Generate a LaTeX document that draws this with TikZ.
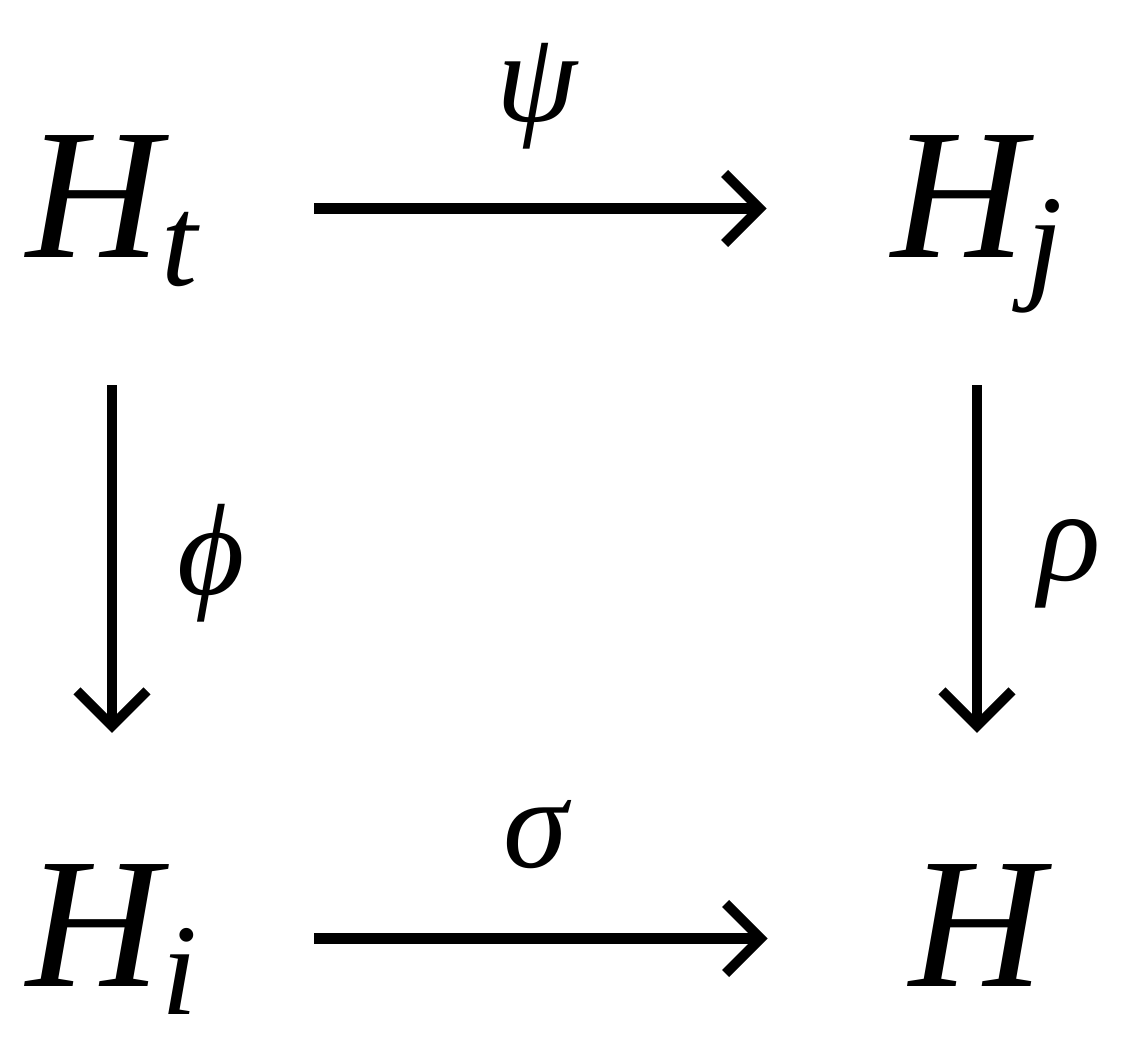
\documentclass[tikz,border=0pt]{standalone}
\usepackage{fontspec}
\setmainfont{Liberation Serif}
\usetikzlibrary{arrows.meta}
\newcommand\idx[1]{\raisebox{-0.28cm}{\fontsize{37}{44}\selectfont #1}}

\begin{document}
\begin{tikzpicture}[->,>={Straight Barb[length=3.5mm,width=7mm]},line width=2.85pt,
  main node/.style={inner sep=0pt,text height=1.3cm,text depth=0.33cm,font=\fontsize{53}{64}\selectfont\itshape},
  map label/.style={inner sep=0pt,font=\fontsize{37}{44}\selectfont\itshape}]
  \useasboundingbox (0,0) rectangle (11.36,-10.39);
  \node[main node] (Ht) at (1.12,-2.085) {H\idx{t}};
  \node[main node] (Hj) at (9.77,-2.085) {H\idx{j}};
  \node[main node] (Hi) at (1.12,-9.385) {H\idx{i}};
  \node[main node] (H) at (9.77,-9.385) {H};

\path[every node/.style={map label}]
  (Ht) edge[shorten <=1.12cm,shorten >=1.2cm] node[above=5.4mm,xshift=-0.08cm] {ψ} (Hj)
  (Hi) edge[shorten <=1.12cm,shorten >=1.37cm] node[above=6.45mm,xshift=-0.18cm] {σ} (H)
  (Ht) edge[shorten <=0.9cm,shorten >=1.19cm] node[right=6mm,yshift=0.1cm] {ϕ} (Hi)
  (Hj) edge[shorten <=0.9cm,shorten >=1.19cm] node[right=5.6mm,yshift=0.1cm] {ρ} (H)
;
\end{tikzpicture}
\end{document}
